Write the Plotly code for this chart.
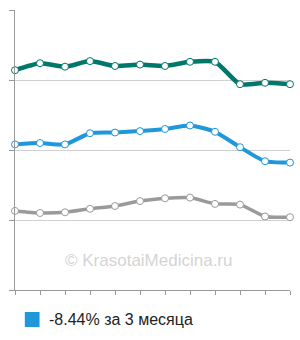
import plotly.graph_objects as go

months = list(range(12))
green_vals = [3.14, 3.24, 3.19, 3.27, 3.20, 3.22, 3.20, 3.26, 3.26, 2.94, 2.96, 2.94]
blue_vals = [2.08, 2.10, 2.08, 2.24, 2.25, 2.27, 2.30, 2.35, 2.26, 2.04, 1.84, 1.82]
gray_vals = [1.13, 1.10, 1.11, 1.16, 1.20, 1.27, 1.31, 1.32, 1.23, 1.22, 1.05, 1.04]
legend_label = "-8.44% за 3 месяца"
watermark = "© KrasotaiMedicina.ru"

GREEN = "#00776b"
BLUE = "#1f97da"
GRAY = "#9a9a9a"

fig = go.Figure()

def add_series(vals, color, width):
    fig.add_trace(go.Scatter(
        x=months, y=vals, mode="lines+markers",
        line=dict(color=color, width=width, shape="spline", smoothing=0.6),
        marker=dict(size=7, color="white", line=dict(color=color, width=1)),
        cliponaxis=False, showlegend=False, hoverinfo="skip"))

add_series(gray_vals, GRAY, 3.5)
add_series(blue_vals, BLUE, 4)
add_series(green_vals, GREEN, 4.5)

# legend swatch + label
fig.add_shape(type="rect", xref="paper", yref="paper",
              x0=0.0357, x1=0.0893, y0=-0.1321, y1=-0.0786,
              fillcolor=BLUE, line=dict(width=0))
fig.add_annotation(text=legend_label, xref="paper", yref="paper",
                   x=0.118, y=-0.1071, xanchor="left", yanchor="middle",
                   showarrow=False,
                   font=dict(family="Liberation Sans, Arial, sans-serif", size=16, color="#222"))

fig.add_annotation(text=watermark, xref="paper", yref="paper",
                   x=0.4875, y=0.064, showarrow=False,
                   font=dict(family="Liberation Sans, Arial, sans-serif", size=17, color="#d4d4d4"))

fig.update_layout(
    width=300, height=340,
    margin=dict(l=10, r=10, t=10, b=50),
    paper_bgcolor="white", plot_bgcolor="white",
    font=dict(family="Liberation Sans, Arial, sans-serif", size=16, color="#222"),
    showlegend=False,
    xaxis=dict(range=[0, 11], showgrid=False, zeroline=False, showticklabels=False,
               tickvals=months, ticks="outside", ticklen=4, tickcolor="#999",
               showline=True, linecolor="#999", linewidth=1),
    yaxis=dict(range=[0, 4], tickvals=[0, 1, 2, 3, 4], showticklabels=False,
               ticks="outside", ticklen=5, tickcolor="#999",
               showgrid=True, gridcolor="#d0d0d0", gridwidth=1, zeroline=False,
               showline=True, linecolor="#999", linewidth=1),
)

fig.write_html("out.html")
